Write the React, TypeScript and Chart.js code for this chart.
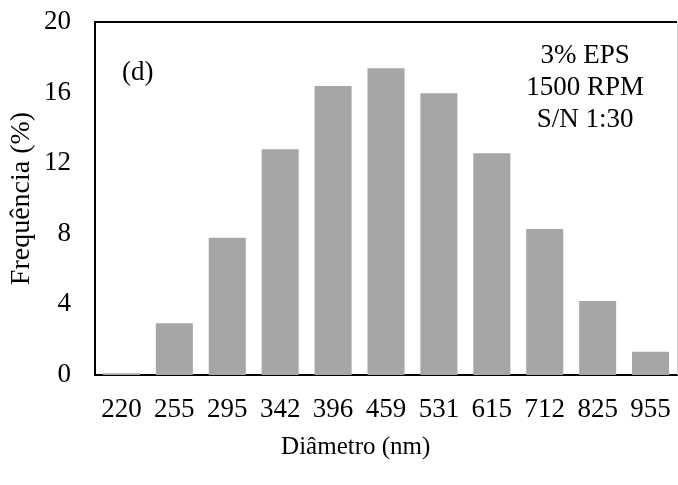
import React, { useEffect, useRef } from "react";
import { Chart, registerables } from "chart.js";

Chart.register(...registerables);

const categories = ["220", "255", "295", "342", "396", "459", "531", "615", "712", "825", "955"];
const frequencies = [0.1, 2.93, 7.78, 12.79, 16.37, 17.38, 15.96, 12.56, 8.27, 4.19, 1.32];
const yTitle = "Frequência (%)";
const xTitle = "Diâmetro (nm)";
const panelLabel = "(d)";
const noteLines = ["3% EPS", "1500 RPM", "S/N 1:30"];

const FONT = "'Liberation Serif', 'Times New Roman', serif";

const framePlugin = {
  id: "frameAndNotes",
  afterDraw(chart: any) {
    const { ctx, chartArea } = chart;
    const { left, right, top, bottom } = chartArea;
    const w = right - left;
    ctx.save();
    // top border
    ctx.strokeStyle = "#000";
    ctx.lineWidth = 2;
    ctx.beginPath();
    ctx.moveTo(left - 1, top);
    ctx.lineTo(right, top);
    ctx.stroke();
    // right border
    ctx.strokeStyle = "#d0d0d0";
    ctx.lineWidth = 1;
    ctx.beginPath();
    ctx.moveTo(right + 0.5, top);
    ctx.lineTo(right + 0.5, bottom);
    ctx.stroke();
    // texts
    ctx.fillStyle = "#000";
    ctx.font = `27px ${FONT}`;
    ctx.textBaseline = "middle";
    ctx.textAlign = "left";
    ctx.fillText(panelLabel, left + 27, top + 51);
    ctx.textAlign = "center";
    const cx = left + w * 0.842;
    noteLines.forEach((t, i) => {
      ctx.fillText(t, cx, top + 34 + i * 32);
    });
    // x title
    ctx.font = `25px ${FONT}`;
    ctx.fillText(xTitle, left + w * 0.448, bottom + 72);
    ctx.restore();
  },
};

export default function App() {
  const ref = useRef<HTMLCanvasElement>(null);
  useEffect(() => {
    document.body.style.margin = "0";
    const chart = new Chart(ref.current as HTMLCanvasElement, {
      type: "bar",
      data: {
        labels: categories,
        datasets: [
          {
            data: frequencies,
            backgroundColor: "#a6a6a6",
            borderWidth: 0,
            categoryPercentage: 1,
            barPercentage: 0.7,
          },
        ],
      },
      options: {
        animation: false,
        responsive: false,
        layout: { padding: { top: 22, right: 1, left: 0, bottom: 0 } },
        plugins: { legend: { display: false }, tooltip: { enabled: false } },
        scales: {
          x: {
            grid: { display: false, drawTicks: false },
            border: { display: true, color: "#000", width: 2 },
            ticks: { color: "#000", font: { family: FONT, size: 27 }, padding: 19, maxRotation: 0, autoSkip: false },
            afterFit: (s: any) => {
              s.height = 110;
              s.paddingLeft = 0;
              s.paddingRight = 0;
            },
          },
          y: {
            min: 0,
            max: 20,
            grid: { display: false, drawTicks: false },
            border: { display: true, color: "#000", width: 2 },
            ticks: { stepSize: 4, color: "#000", font: { family: FONT, size: 27 }, padding: 24 },
            title: {
              display: true,
              text: yTitle,
              color: "#000",
              font: { family: FONT, size: 28 },
              padding: { top: 5, bottom: 0 },
            },
            afterFit: (s: any) => {
              s.width = 95;
              s.paddingTop = 0;
              s.paddingBottom = 0;
            },
          },
        },
      },
      plugins: [framePlugin],
    });
    return () => chart.destroy();
  }, []);
  return (
    <div style={{ width: 678, height: 485 }}>
      <canvas ref={ref} width={678} height={485} style={{ display: "block" }} />
    </div>
  );
}
